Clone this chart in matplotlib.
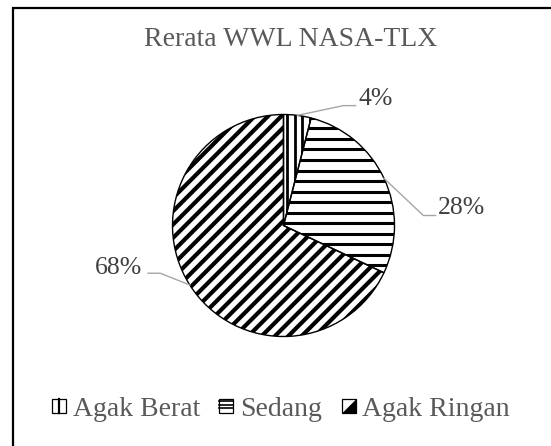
import numpy as np
import matplotlib.pyplot as plt
from matplotlib.collections import LineCollection
from matplotlib.patches import Rectangle, Patch, Polygon
from matplotlib.lines import Line2D
from matplotlib.legend_handler import HandlerBase

plt.rcParams['font.family'] = ['Liberation Serif', 'DejaVu Serif']

# Data
categories = ["Agak Berat", "Sedang", "Agak Ringan"]
values = [4, 28, 68]
pct_labels = ["4%", "28%", "68%"]

title = "Rerata WWL NASA-TLX"
text_color = "#595959"
leader_color = "#A6A6A6"

# hatch style per slice: (line angle, pitch in radius units, linewidth)
hatch_styles = [(90, 0.07, 2.0), (0, 0.095, 2.2), (45, 0.085, 3.0)]
swatch_kinds = ['vertical', 'horizontal', 'diagonal']

W, H = 551, 446
fig = plt.figure(figsize=(W / 100, H / 100), dpi=100)

# pie centre (283.5, 225.5) px, radius 111 px
cx, cy, r = 283.5, 225.5, 111
ax = fig.add_axes([(cx - r) / W, (H - cy - r) / H, 2 * r / W, 2 * r / H])
wedges, _ = ax.pie(values, startangle=90, counterclock=False, radius=1,
                   wedgeprops=dict(facecolor='none', edgecolor='black', linewidth=1.0))
ax.set_xlim(-1, 1)
ax.set_ylim(-1, 1)
ax.axis('off')


def hatch_wedge(wedge, angle, pitch, lw):
    t = np.deg2rad(angle)
    d = np.array([np.cos(t), np.sin(t)])
    n = np.array([-np.sin(t), np.cos(t)])
    segs = [[o * n - 1.5 * d, o * n + 1.5 * d] for o in np.arange(-1.5, 1.5, pitch)]
    lc = LineCollection(segs, colors='black', linewidths=lw, zorder=0.9)
    ax.add_collection(lc)
    lc.set_clip_path(wedge)


for w, (a, p, lw) in zip(wedges, hatch_styles):
    hatch_wedge(w, a, p, lw)

# data labels with leader lines (elbow / text offsets in radius units)
label_layout = [
    # (elbow dx, elbow dy, end dx, text dx, text dy, ha)
    (0.54, 1.08, 0.65, 0.68, 1.14, 'left'),
    (1.26, 0.09, 1.37, 1.39, 0.16, 'left'),
    (-1.11, -0.43, -1.22, -1.27, -0.38, 'right'),
]
cum = np.cumsum([0] + values)
total = float(sum(values))
for i, (ex, ey, endx, tx, ty, ha) in enumerate(label_layout):
    mid = (cum[i] + cum[i + 1]) / 2 / total * 2 * np.pi
    sx, sy = np.sin(mid), np.cos(mid)
    ax.plot([sx, ex, endx], [sy, ey, ey], color=leader_color, lw=1.0, clip_on=False)
    ax.text(tx, ty, pct_labels[i], ha=ha, va='center', fontsize=18.5, color="#404040")

fig.text(291 / W, 1 - 40 / H, title, ha='center', va='center', fontsize=20, color=text_color)


class SwatchHandler(HandlerBase):
    def __init__(self, kind):
        super().__init__()
        self.kind = kind

    def create_artists(self, legend, orig_handle, xdescent, ydescent, width, height,
                       fontsize, trans):
        s = min(width, height)
        x0 = -xdescent + (width - s) / 2
        y0 = -ydescent + (height - s) / 2
        arts = [Rectangle((x0, y0), s, s, facecolor='white', edgecolor='black',
                          lw=0.9, transform=trans)]
        if self.kind == 'vertical':
            arts.append(Line2D([x0 + s / 2] * 2, [y0, y0 + s], color='black', lw=1.6,
                               transform=trans))
        elif self.kind == 'horizontal':
            for f in (0.3, 0.55, 0.8):
                arts.append(Line2D([x0, x0 + s], [y0 + s * f] * 2, color='black', lw=1.2,
                                   transform=trans))
        else:
            arts.append(Polygon([(x0, y0), (x0 + s, y0), (x0 + s, y0 + s)], closed=True,
                                facecolor='black', edgecolor='black', lw=0.5,
                                transform=trans))
        return arts


handles = [Patch(facecolor='white', edgecolor='black') for _ in categories]
handler_map = {h: SwatchHandler(k) for h, k in zip(handles, swatch_kinds)}
fig.legend(handles, categories, loc='center', bbox_to_anchor=(281 / W, 1 - 409 / H),
           ncol=3, frameon=False, fontsize=20, labelcolor=text_color, handler_map=handler_map,
           handlelength=0.5, handleheight=0.5, handletextpad=0.25, columnspacing=0.7)

# chart border (right / bottom edges fall outside the picture)
fig.patches.append(Rectangle((13 / W, -0.1), 1.2, 1 - 8 / H + 0.1, transform=fig.transFigure,
                             fill=False, edgecolor='black', lw=1.6))

fig.savefig("out.png", dpi=100)
